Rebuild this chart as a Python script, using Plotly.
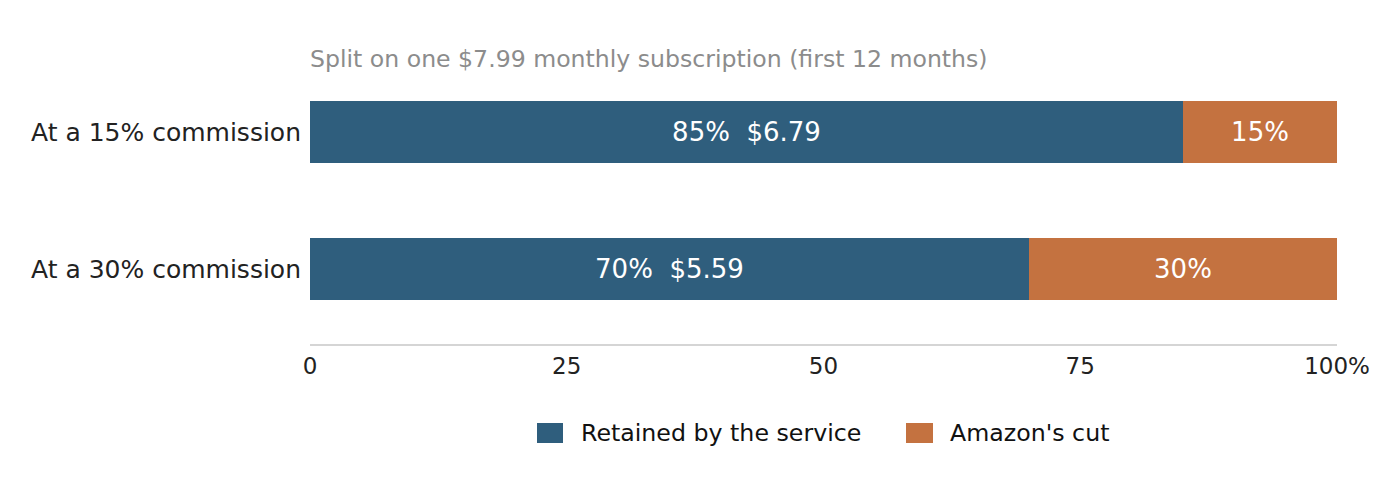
import plotly.graph_objects as go

categories = ["At a 15% commission", "At a 30% commission"]
retained_pct = [85, 70]
cut_pct = [15, 30]
retained_usd = [6.79, 5.59]
x_ticks = [0, 25, 50, 75, 100]
x_tick_labels = ["0", "25", "50", "75", "100%"]
series_names = ["Retained by the service", "Amazon's cut"]
subtitle = "Split on one $7.99 monthly subscription (first 12 months)"

FONT = "DejaVu Sans"
BLUE = "#2f5e7d"
ORANGE = "#c47240"
COLORS = [BLUE, ORANGE]

fig = go.Figure()
fig.add_trace(go.Bar(
    y=categories, x=retained_pct, orientation="h", name=series_names[0],
    marker=dict(color=BLUE, line=dict(width=0)),
    text=[f"{p}%\u00a0 ${d:.2f}" for p, d in zip(retained_pct, retained_usd)],
    textposition="inside", insidetextanchor="middle",
    textfont=dict(color="white", size=26, family=FONT),
    hoverinfo="skip", width=0.45, showlegend=False,
))
fig.add_trace(go.Bar(
    y=categories, x=cut_pct, orientation="h", name=series_names[1],
    marker=dict(color=ORANGE, line=dict(width=0)),
    text=[f"{p}%" for p in cut_pct],
    textposition="inside", insidetextanchor="middle",
    textfont=dict(color="white", size=26, family=FONT),
    hoverinfo="skip", width=0.45, showlegend=False,
))

# Manual legend (larger swatches than Plotly's built-in legend allows)
plot_left, plot_w = 310, 1027
plot_bottom, plot_h = 344, 280
def px(x):
    return (x - plot_left) / plot_w
def py(y):
    return (plot_bottom - y) / plot_h

legend_items = [(537, 563, 581), (906, 933, 950)]
shapes = []
annotations = [dict(text=subtitle, xref="paper", yref="paper", x=0, y=1,
                    xanchor="left", yanchor="middle", yshift=5, xshift=-2, showarrow=False,
                    font=dict(size=23.6, color="#8c8c8c", family=FONT))]
for (x0, x1, tx), name, col in zip(legend_items, series_names, COLORS):
    shapes.append(dict(type="rect", xref="paper", yref="paper",
                       x0=px(x0), x1=px(x1), y0=py(443), y1=py(423),
                       fillcolor=col, line=dict(width=0)))
    annotations.append(dict(text=name, xref="paper", yref="paper", x=px(tx), y=py(433),
                            xanchor="left", yanchor="middle", xshift=-2, showarrow=False,
                            font=dict(size=23.7, color="#111111", family=FONT)))

fig.update_layout(
    width=1400, height=500, barmode="stack",
    margin=dict(l=302, r=71, t=56, b=164),
    paper_bgcolor="white", plot_bgcolor="white",
    font=dict(family=FONT, size=22, color="#222222"),
    showlegend=False,
    xaxis=dict(range=[0, 100], tickvals=x_ticks, ticktext=x_tick_labels,
               showgrid=False, zeroline=False, showline=True, linecolor="#d5d5d5",
               linewidth=2, ticks="", ticklabelstandoff=0,
               tickfont=dict(size=23, color="#222222", family=FONT)),
    yaxis=dict(range=[1.548, -0.496], showgrid=False, zeroline=False, showline=False,
               ticks="", ticklabelstandoff=8,
               tickfont=dict(size=25, color="#222222", family=FONT)),
    shapes=shapes,
    annotations=annotations,
)

fig.write_html("out.html")
